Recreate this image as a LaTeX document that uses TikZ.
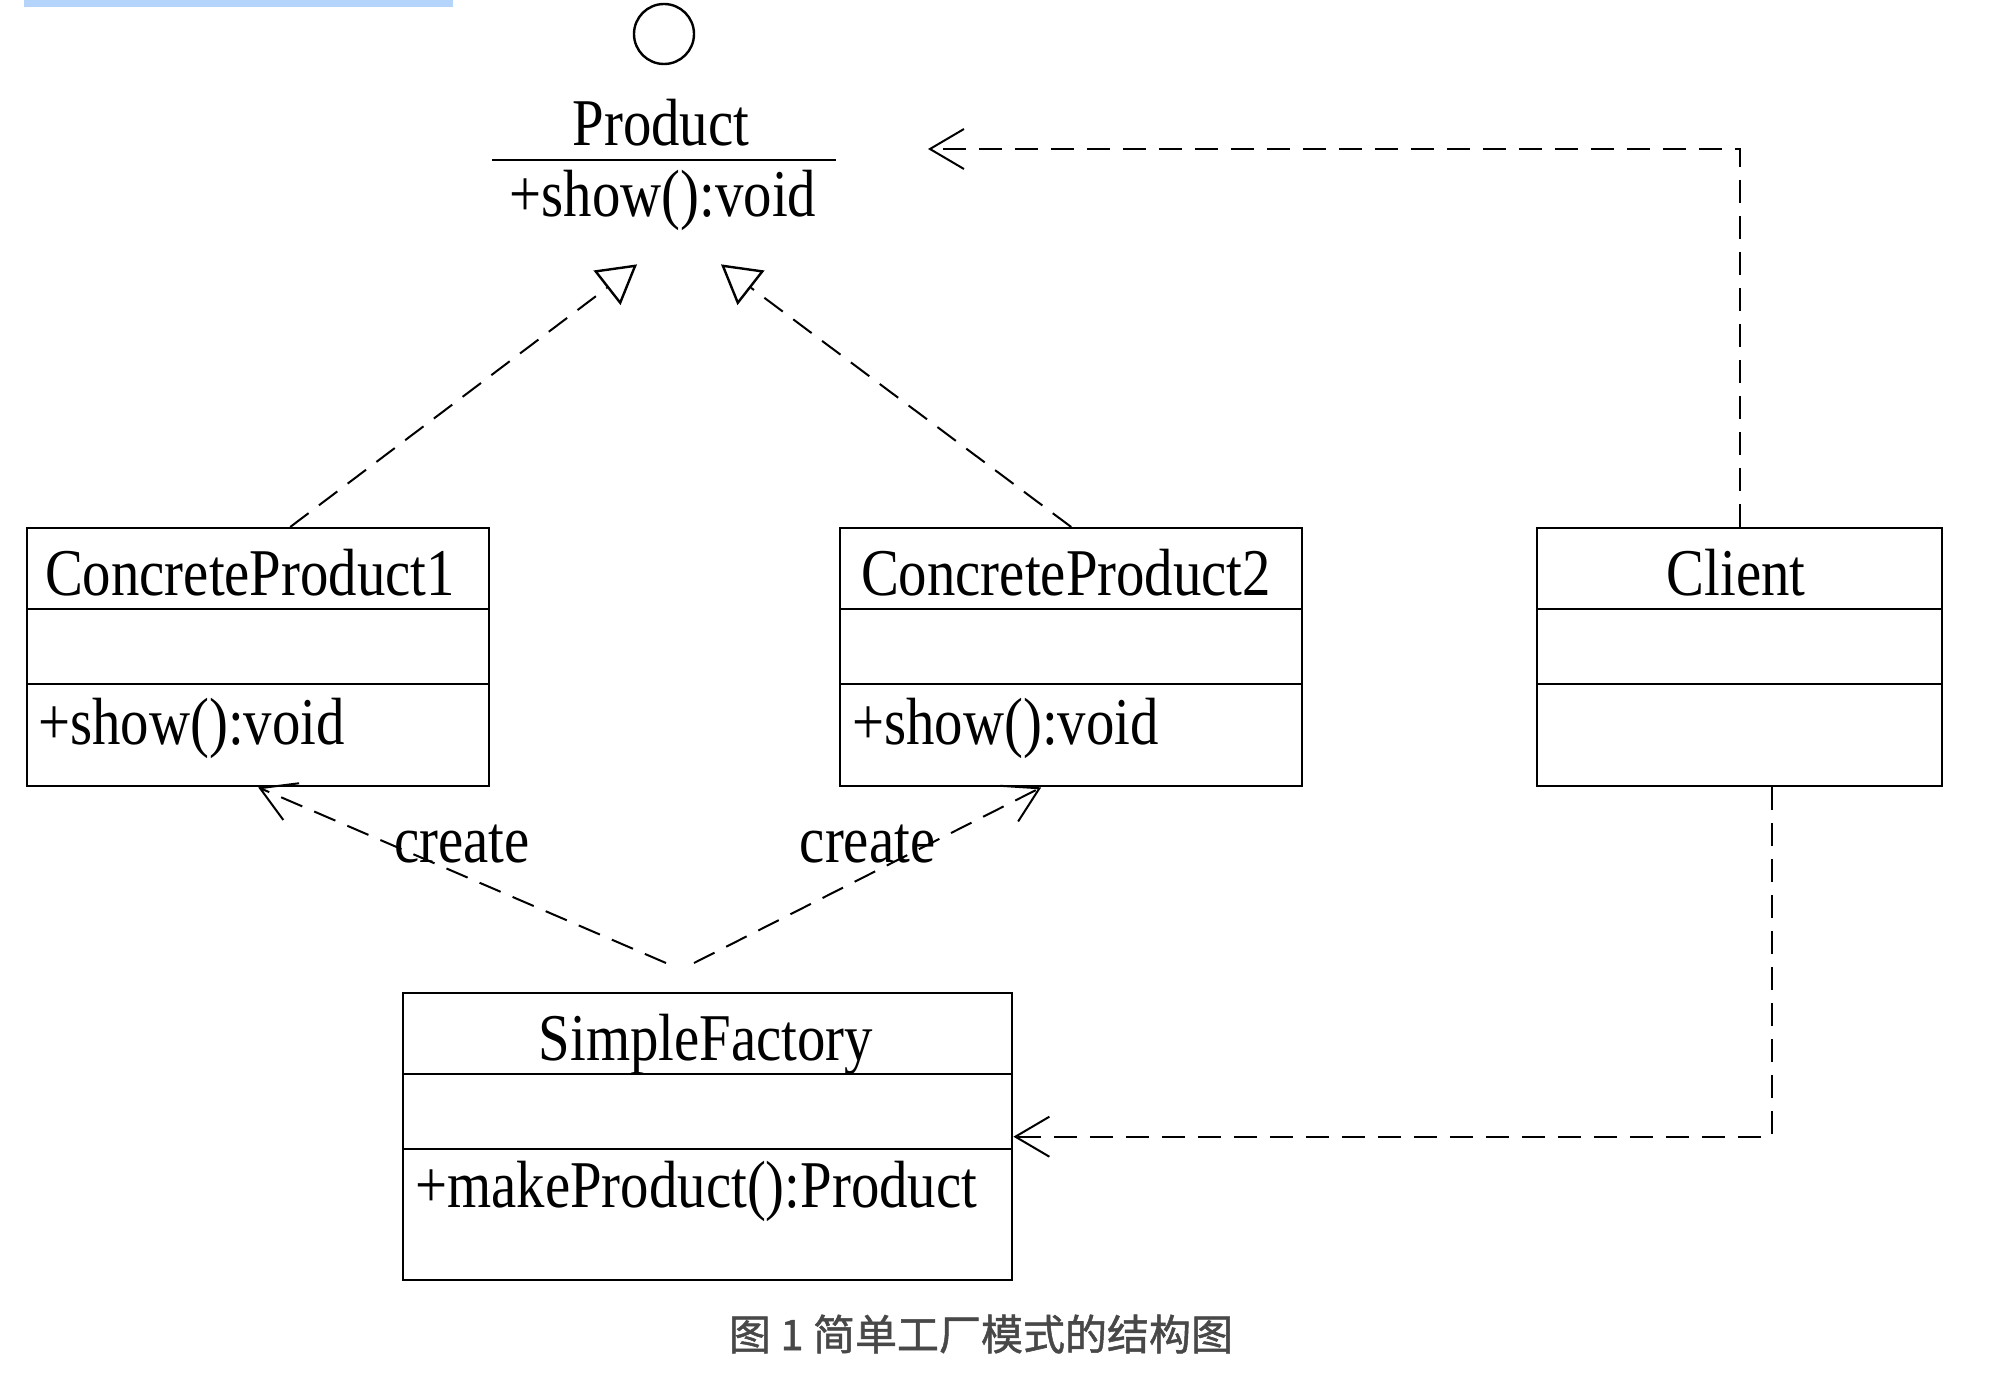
\documentclass[tikz,border=0pt]{standalone}
\usepackage{fontspec}
\setmainfont{Liberation Serif}[FakeStretch=0.85]
\newfontfamily\cjk{Noto Sans CJK SC}[FakeBold=1.2]
\usepackage{tikz}
\usetikzlibrary{arrows.meta,shapes.geometric}
\usepackage{xcolor}
\definecolor{selblue}{RGB}{180,212,252}
\definecolor{capgray}{RGB}{72,72,72}

\begin{document}
\begin{tikzpicture}[x=0.5pt,y=-0.5pt,
		umlbox/.style={draw,line width=1.2pt,anchor=north west,inner sep=0pt,minimum height=129pt},
		txt/.style={inner sep=0pt,font=\fontsize{33.4}{36}\selectfont},
		lbl/.style={txt,yshift=15.5pt},
		dep/.style={line width=1pt,dash pattern=on 11.5pt off 6.5pt},
		opentip/.style={-{Straight Barb[length=17pt,width=20pt,line width=1pt]}},
		hollow/.style={regular polygon,regular polygon sides=3,draw,line width=1.2pt,minimum size=23pt,inner sep=0pt}]
		
		\useasboundingbox (0,0) rectangle (2002,1374);
		\fill[selblue] (24,0) rectangle (453,7);
		
		% interface Product
		\node[circle,draw,line width=1.2pt,minimum size=30pt,inner sep=0pt] (iface) at (664,34) {};
		\node[txt] (prodname) at (661,123) {Product};
		\draw[line width=1.4pt] (492,160) -- (836,160);
		\node[txt] (prodop) at (663,200) {+show():void};
		\node[hollow,shape border rotate=188] (tri1) at (617,280) {};
		\node[hollow,shape border rotate=172] (tri2) at (741,280) {};
		
		% classes
		\node[umlbox,minimum width=231pt] (cpone) at (26,527) {};
		\node[umlbox,minimum width=231pt] (cptwo) at (839,527) {};
		\node[umlbox,minimum width=202.5pt] (client) at (1536,527) {};
		\node[umlbox,minimum width=304.5pt,minimum height=143.5pt] (factory) at (402,992) {};
		\foreach \cls in {cpone,cptwo,client,factory}
		\foreach \d in {41,78.5}
		\draw[line width=1.2pt] ([yshift=-\d pt]\cls.north west) -- ([yshift=-\d pt]\cls.north east);
		
		\node[txt] (cponename) at (250,573) {ConcreteProduct1};
		\node[txt,anchor=west] (cponeop) at (38,728) {+show():void};
		\node[txt] (cptwoname) at (1066,573) {ConcreteProduct2};
		\node[txt,anchor=west] (cptwoop) at (852,728) {+show():void};
		\node[txt] (clientname) at (1736,573) {Client};
		\node[txt] (factoryname) at (706,1045) {SimpleFactory};
		\node[txt,anchor=west] (factoryop) at (415,1191) {+makeProduct():Product};
		
		% relations
		\draw[dep] ([xshift=16pt]cpone.north) -- (tri1.side 3);
		\draw[dep] (cptwo.north) -- (tri2.side 1);
		\coordinate (prodin) at (928,149);
		\draw[dep,opentip] (client.north) |- (prodin);
		\draw[dep,opentip] ([xshift=16pt]client.south) |- (factory.east);
		\coordinate (fleft) at (666,963);
		\coordinate (fright) at (694,963);
		\draw[dep,opentip] (fleft) -- node[lbl] (lblone) {create} (cpone.south);
		\draw[dep,opentip] (fright) -- node[lbl] (lbltwo) {create} ([xshift=-15pt]cptwo.south);
		
		\node[text=capgray,font=\cjk\fontsize{21}{24}\selectfont] (caption) at (981,1334) {图 1 简单工厂模式的结构图};
		
\end{tikzpicture}
\end{document}
